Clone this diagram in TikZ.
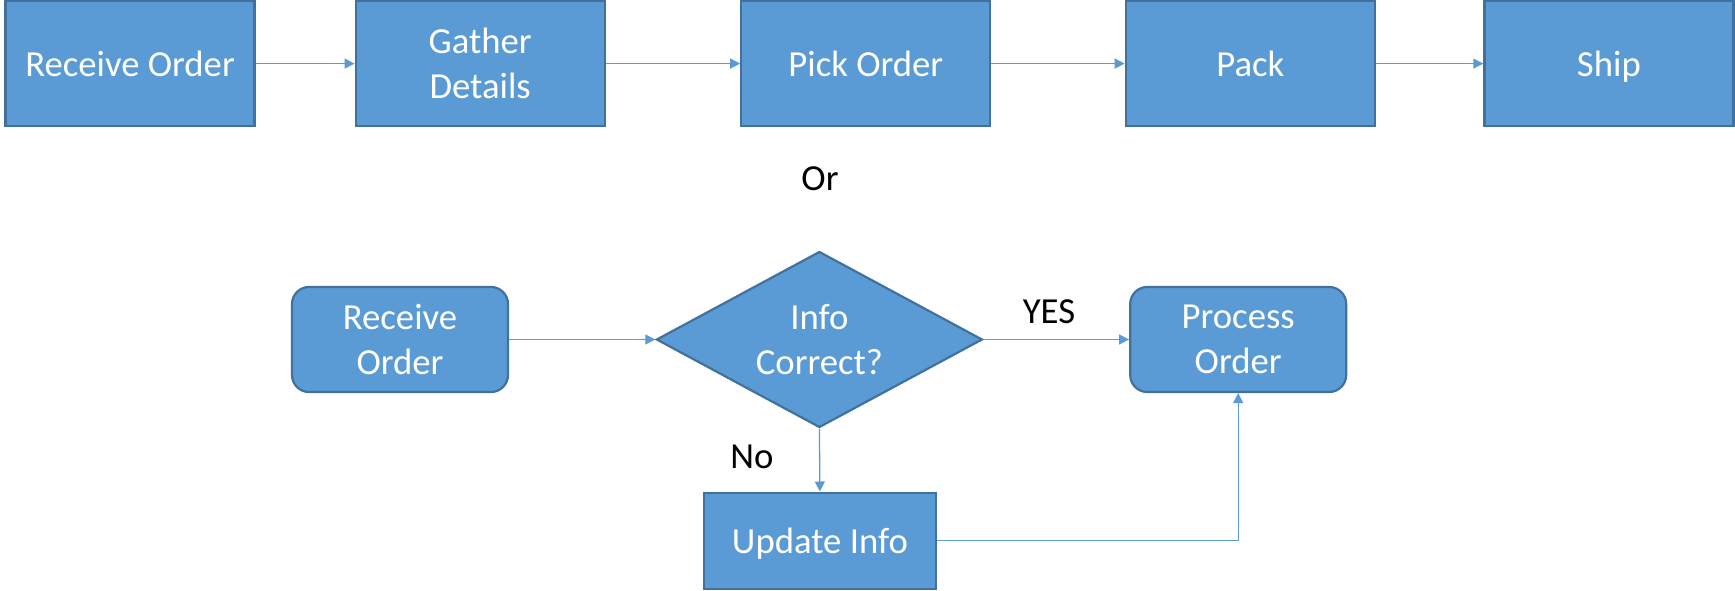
\documentclass[tikz,border=0pt]{standalone}
\usepackage{fontspec}
\setmainfont{Carlito}
\usetikzlibrary{shapes.geometric,arrows.meta}
\definecolor{boxfill}{HTML}{5B9BD5}
\definecolor{boxline}{HTML}{41719C}
\begin{document}
\begin{tikzpicture}[x=1pt,y=1pt,
  base/.style={draw=boxline,fill=boxfill,line width=2.2pt,text=white,align=center,inner sep=0pt,
    font=\fontsize{36.7}{44.8}\selectfont},
  topbox/.style={base,minimum width=249pt,minimum height=125pt},
  rbox/.style={base,rounded corners=17pt,minimum width=216pt,minimum height=105pt},
  ubox/.style={base,minimum width=232pt,minimum height=96pt},
  decide/.style={base,shape=diamond,aspect=1.852,minimum width=326pt,minimum height=176pt},
  nodepth/.style={text depth=0pt},
  conn/.style={draw=boxfill,line width=1.3pt,-{Triangle[length=10pt,width=10pt]}},
  lbl/.style={text=black,inner sep=0pt,font=\fontsize{36.7}{44.8}\selectfont}]
\useasboundingbox (0,0) rectangle (1735,-591);
% top row
\node[topbox] (t1) at (130,-63.6) {Receive Order};
\node[topbox] (t2) at (480.2,-63.6) {Gather\\Details};
\node[topbox] (t3) at (865.8,-63.6) {Pick Order};
\node[topbox] (t4) at (1250.3,-63.6) {Pack};
\node[topbox,nodepth] (t5) at (1608.9,-63.6) {Ship};
\draw[conn] (t1.east) -- (t2.west);
\draw[conn] (t2.east) -- (t3.west);
\draw[conn] (t3.east) -- (t4.west);
\draw[conn] (t4.east) -- (t5.west);
\node[lbl] (or) at (820,-179) {Or};
% bottom flow
\node[rbox] (b1) at (400,-339.5) {Receive\\Order};
\node[decide] (d) at (819.4,-339.5) {Info\\Correct?};
\node[rbox] (b2) at (1238.2,-339.5) {Process\\Order};
\node[ubox,nodepth] (u) at (819.9,-540.6) {Update Info};
\draw[conn] (b1.east) -- (d.west);
\draw[conn] (d.east) -- (b2.west);
\draw[conn] (d.south) -- (u.north);
\draw[conn] (u.east) -| (b2.south);
\node[lbl] (yes) at (1049,-312) {YES};
\node[lbl] (no) at (752,-457) {No};
\end{tikzpicture}
\end{document}
